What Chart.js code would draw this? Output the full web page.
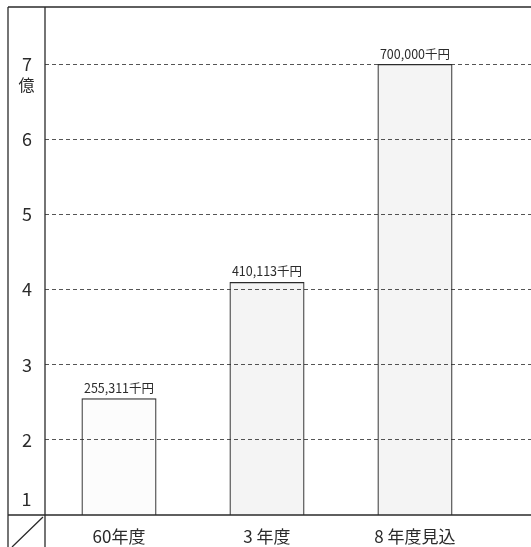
<!DOCTYPE html>
<html>
<head>
<meta charset="utf-8">
<script src="https://cdn.jsdelivr.net/npm/chart.js@4.4.1/dist/chart.umd.min.js"></script>
<style>
html,body{margin:0;padding:0;background:#fff;}
#wrap{width:531px;height:547px;position:relative;}
</style>
</head>
<body>
<div id="wrap"><canvas id="c"></canvas></div>
<script>
// 千円 values, axis in 億円 (1億 = 100,000千円)
const categories = ["60年度", "3 年度", "8 年度見込"];
const valuesSenEn = [255311, 410113, 700000];
const valueLabels = ["255,311千円", "410,113千円", "700,000千円"];
const yTicks = [1, 2, 3, 4, 5, 6, 7];
const xTicks = [0, 1, 2];

const INK = "#2b2b2b";
const FONT = "'Noto Sans CJK JP', 'Noto Sans', sans-serif";

const points = valuesSenEn.map((v, i) => ({ x: i, y: v / 100000 }));

const framePlugin = {
  id: "frame",
  afterDraw(chart) {
    const ctx = chart.ctx, a = chart.chartArea, W = chart.width, H = chart.height;
    const y = chart.scales.y;
    ctx.save();
    ctx.strokeStyle = INK;
    ctx.lineWidth = 1.3;
    ctx.beginPath();
    ctx.moveTo(8, a.top); ctx.lineTo(W, a.top);
    ctx.moveTo(8, a.top); ctx.lineTo(8, H);
    ctx.moveTo(a.left, a.top); ctx.lineTo(a.left, H);
    ctx.moveTo(8, a.bottom); ctx.lineTo(W, a.bottom);
    ctx.moveTo(12, H); ctx.lineTo(a.left - 2, a.bottom + 2);
    ctx.stroke();

    // unit and bottom tick label
    const cx = (8 + a.left) / 2;
    ctx.fillStyle = INK;
    ctx.textAlign = "center";
    ctx.textBaseline = "middle";
    ctx.font = "16px " + FONT;
    ctx.fillText("億", cx, y.getPixelForValue(7) + 21);
    ctx.font = "18px " + FONT;
    ctx.fillText("1", cx, y.getPixelForValue(1) - 16);

    // value labels above bars
    const meta = chart.getDatasetMeta(0);
    ctx.font = "12.5px " + FONT;
    ctx.textBaseline = "bottom";
    meta.data.forEach((bar, i) => {
      ctx.fillText(valueLabels[i], bar.x, bar.y - 4);
    });
    ctx.restore();
  }
};

new Chart(document.getElementById("c"), {
  type: "bar",
  data: {
    datasets: [{
      data: points,
      backgroundColor: ["rgba(0,0,0,0.01)", "rgba(0,0,0,0.045)", "rgba(0,0,0,0.045)"],
      borderColor: INK,
      borderWidth: 1.2,
      borderSkipped: false,
      categoryPercentage: 1,
      barPercentage: 0.507
    }]
  },
  options: {
    responsive: true,
    maintainAspectRatio: false,
    animation: false,
    events: [],
    layout: { padding: { left: 8, top: 7, right: 0, bottom: 0 } },
    plugins: { legend: { display: false }, tooltip: { enabled: false } },
    scales: {
      x: {
        type: "linear",
        offset: false,
        min: -0.5,
        max: 2.784,
        afterBuildTicks: s => { s.ticks = xTicks.map(v => ({ value: v })); },
        afterFit: s => { s.height = 32; s.paddingLeft = 0; s.paddingRight = 0; },
        grid: { display: false, drawTicks: false, offset: false },
        border: { display: false },
        ticks: {
          padding: 11,
          color: INK,
          font: { size: 17, family: FONT },
          maxRotation: 0,
          autoSkip: false,
          callback: v => categories[v] || ""
        }
      },
      y: {
        min: 1,
        max: 7.76,
        afterBuildTicks: s => { s.ticks = yTicks.map(v => ({ value: v })); },
        afterFit: s => { s.width = 37; s.paddingTop = 0; s.paddingBottom = 0; },
        grid: {
          color: c => c.tick && c.tick.value === 1 ? "rgba(0,0,0,0)" : "#555",
          lineWidth: 1,
          drawTicks: false
        },
        border: { display: false, dash: [4, 3] },
        ticks: {
          padding: 13,
          crossAlign: "center",
          color: INK,
          font: { size: 18, family: FONT },
          callback: v => v === 1 ? "" : String(v)
        }
      }
    }
  },
  plugins: [framePlugin]
});
</script>
</body>
</html>
